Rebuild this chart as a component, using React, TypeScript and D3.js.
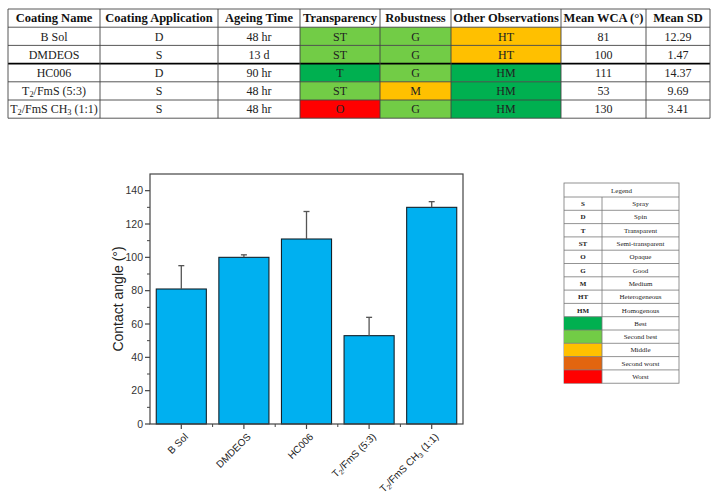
import * as React from "react";
import * as d3 from "d3";

// table data
const tableHeaders = [
  "Coating Name",
  "Coating Application",
  "Ageing Time",
  "Transparency",
  "Robustness",
  "Other Observations",
  "Mean WCA (°)",
  "Mean SD",
];
const coatings = ["B Sol", "DMDEOS", "HC006", "T_2/FmS (5:3)", "T_2/FmS CH_3 (1:1)"];
const applications = ["D", "S", "D", "S", "S"];
const ageingTimes = ["48 hr", "13 d", "90 hr", "48 hr", "48 hr"];
const transparency = ["ST", "ST", "T", "ST", "O"];
const robustness = ["G", "G", "G", "M", "G"];
const observations = ["HT", "HT", "HM", "HM", "HM"];
const meanWCA = [81, 100, 111, 53, 130];
const meanSD = [12.29, 1.47, 14.37, 9.69, 3.41];

// error bars as drawn in the plot
const plottedError = [14, 1.5, 16.5, 11, 3.4];
const yTicks = [0, 20, 40, 60, 80, 100, 120, 140];

// legend
const legendCodes = ["S", "D", "T", "ST", "O", "G", "M", "HT", "HM"];
const legendMeanings = [
  "Spray",
  "Spin",
  "Transparent",
  "Semi-transparent",
  "Opaque",
  "Good",
  "Medium",
  "Heterogeneous",
  "Homogenous",
];
const rankNames = ["Best", "Second best", "Middle", "Second worst", "Worst"];
const rankColors = ["#00b050", "#72cc46", "#ffc000", "#e2650f", "#ff0000"];

const codeColor: Record<string, string> = {
  T: rankColors[0],
  HM: rankColors[0],
  ST: rankColors[1],
  G: rankColors[1],
  M: rankColors[2],
  HT: rankColors[2],
  O: rankColors[4],
};

const serif = "'Liberation Serif', 'DejaVu Serif', serif";
const sans = "'Liberation Sans', Arial, sans-serif";

// "_2" -> subscript 2
const rich = (text: string) => {
  const parts = text.split(/_(\d)/);
  return parts.map((p, i) =>
    i % 2 === 1 ? (
      <tspan key={i} fontSize="70%" baselineShift="-25%">
        {p}
      </tspan>
    ) : (
      <tspan key={i}>{p}</tspan>
    )
  );
};

const colEdges = [8, 100, 218, 300, 380, 451, 561, 646, 710];
const rowTop = 9;
const rowH = 18.2;

const DataTable = () => {
  const columns: string[][] = [
    coatings,
    applications,
    ageingTimes,
    transparency,
    robustness,
    observations,
    meanWCA.map(String),
    meanSD.map((d) => d.toFixed(2)),
  ];
  const nRows = coatings.length + 1;
  const bottom = rowTop + nRows * rowH;
  return (
    <g fontFamily={serif}>
      {columns.map((col, c) =>
        col.map((v, r) => {
          const fill = c >= 3 && c <= 5 ? codeColor[v] : "#fff";
          return (
            <rect
              key={`${c}-${r}`}
              x={colEdges[c]}
              y={rowTop + (r + 1) * rowH}
              width={colEdges[c + 1] - colEdges[c]}
              height={rowH}
              fill={fill}
            />
          );
        })
      )}
      {d3.range(nRows + 1).map((i) => (
        <line
          key={`h${i}`}
          x1={colEdges[0]}
          x2={colEdges[colEdges.length - 1]}
          y1={rowTop + i * rowH}
          y2={rowTop + i * rowH}
          stroke={i === 3 ? "#000" : "#444"}
          strokeWidth={i === 3 ? 1.6 : 0.9}
        />
      ))}
      {colEdges.map((x, i) => (
        <line key={`v${i}`} x1={x} x2={x} y1={rowTop} y2={bottom} stroke="#444" strokeWidth={0.9} />
      ))}
      {tableHeaders.map((h, c) => (
        <text
          key={h}
          x={(colEdges[c] + colEdges[c + 1]) / 2}
          y={rowTop + rowH / 2}
          dy="0.35em"
          textAnchor="middle"
          fontWeight="bold"
          fontSize={12.5}
          fill="#111"
        >
          {h}
        </text>
      ))}
      {columns.map((col, c) =>
        col.map((v, r) => (
          <text
            key={`t${c}-${r}`}
            x={(colEdges[c] + colEdges[c + 1]) / 2}
            y={rowTop + (r + 1.5) * rowH}
            dy="0.35em"
            textAnchor="middle"
            fontSize={12}
            fill="#222"
          >
            {rich(v)}
          </text>
        ))
      )}
    </g>
  );
};

const frame = { left: 150, right: 463, top: 174, bottom: 424 };

const BarChart = () => {
  const x = d3
    .scaleBand()
    .domain(coatings)
    .range([frame.left, frame.right])
    .paddingInner(0.2)
    .paddingOuter(0.1);
  const y = d3.scaleLinear().domain([0, 150]).range([frame.bottom, frame.top]);
  const minorY = d3.range(10, 150, 20);
  const step = x.step();
  const bw = x.bandwidth();
  const centers = coatings.map((c) => (x(c) ?? 0) + bw / 2);
  const minorX = centers.slice(0, -1).map((c) => c + step / 2);

  return (
    <g fontFamily={sans}>
      {coatings.map((c, i) => (
        <rect
          key={c}
          x={x(c)}
          y={y(meanWCA[i])}
          width={bw}
          height={y(0) - y(meanWCA[i])}
          fill="#00b0f0"
          stroke="#13222b"
          strokeWidth={1.1}
        />
      ))}
      {coatings.map((c, i) => (
        <g key={`e${c}`} stroke="#555" strokeWidth={1.3}>
          <line x1={centers[i]} x2={centers[i]} y1={y(meanWCA[i])} y2={y(meanWCA[i] + plottedError[i])} />
          <line
            x1={centers[i] - 3}
            x2={centers[i] + 3}
            y1={y(meanWCA[i] + plottedError[i])}
            y2={y(meanWCA[i] + plottedError[i])}
          />
        </g>
      ))}
      <rect
        x={frame.left}
        y={frame.top}
        width={frame.right - frame.left}
        height={frame.bottom - frame.top}
        fill="none"
        stroke="#444"
        strokeWidth={1.2}
      />
      {yTicks.map((t) => (
        <g key={t}>
          <line x1={frame.left - 5} x2={frame.left} y1={y(t)} y2={y(t)} stroke="#444" strokeWidth={1.2} />
          <text x={frame.left - 7} y={y(t)} dy="0.35em" textAnchor="end" fontSize={10.5} fill="#333">
            {t}
          </text>
        </g>
      ))}
      {minorY.map((t) => (
        <line key={`m${t}`} x1={frame.left - 3} x2={frame.left} y1={y(t)} y2={y(t)} stroke="#444" strokeWidth={1} />
      ))}
      {centers.map((cx) => (
        <line key={`xt${cx}`} x1={cx} x2={cx} y1={frame.bottom} y2={frame.bottom + 5} stroke="#444" strokeWidth={1.2} />
      ))}
      {minorX.map((mx) => (
        <line key={`xm${mx}`} x1={mx} x2={mx} y1={frame.bottom} y2={frame.bottom + 3} stroke="#444" strokeWidth={1} />
      ))}
      {coatings.map((c, i) => (
        <text
          key={`l${c}`}
          transform={`translate(${centers[i] + 5},${frame.bottom + 11}) rotate(-45)`}
          textAnchor="end"
          dy="0.35em"
          fontSize={10}
          fill="#222"
        >
          {rich(c)}
        </text>
      ))}
      <text
        transform={`translate(123,${(frame.top + frame.bottom) / 2}) rotate(-90)`}
        textAnchor="middle"
        fontSize={14}
        fill="#222"
      >
        Contact angle (°)
      </text>
    </g>
  );
};

const legendBox = { left: 564, divider: 602, right: 679, top: 183, headerH: 14, rowH: 13.3 };

const Legend = () => {
  const L = legendBox;
  const labels = [...legendMeanings, ...rankNames];
  const n = labels.length;
  const bottom = L.top + L.headerH + n * L.rowH;
  return (
    <g fontFamily={serif} fontSize={7} fill="#222">
      <rect x={L.left} y={L.top} width={L.right - L.left} height={bottom - L.top} fill="#fff" stroke="#777" strokeWidth={0.8} />
      {rankColors.map((col, i) => (
        <rect
          key={col}
          x={L.left}
          y={L.top + L.headerH + (legendCodes.length + i) * L.rowH}
          width={L.divider - L.left}
          height={L.rowH}
          fill={col}
        />
      ))}
      {d3.range(n).map((i) => (
        <line
          key={i}
          x1={L.left}
          x2={L.right}
          y1={L.top + L.headerH + i * L.rowH}
          y2={L.top + L.headerH + i * L.rowH}
          stroke="#777"
          strokeWidth={0.8}
        />
      ))}
      <line x1={L.divider} x2={L.divider} y1={L.top + L.headerH} y2={bottom} stroke="#777" strokeWidth={0.8} />
      <text x={(L.left + L.right) / 2} y={L.top + L.headerH / 2 + 1} dy="0.35em" textAnchor="middle">
        Legend
      </text>
      {legendCodes.map((c, i) => (
        <text
          key={c}
          x={(L.left + L.divider) / 2}
          y={L.top + L.headerH + (i + 0.5) * L.rowH}
          dy="0.35em"
          textAnchor="middle"
          fontWeight="bold"
        >
          {c}
        </text>
      ))}
      {labels.map((t, i) => (
        <text
          key={t}
          x={(L.divider + L.right) / 2}
          y={L.top + L.headerH + (i + 0.5) * L.rowH}
          dy="0.35em"
          textAnchor="middle"
        >
          {t}
        </text>
      ))}
    </g>
  );
};

export default function App() {
  return (
    <svg
      width={722}
      height={499}
      style={{ position: "absolute", left: 0, top: 0, background: "#fff" }}
    >
      <DataTable />
      <BarChart />
      <Legend />
    </svg>
  );
}
